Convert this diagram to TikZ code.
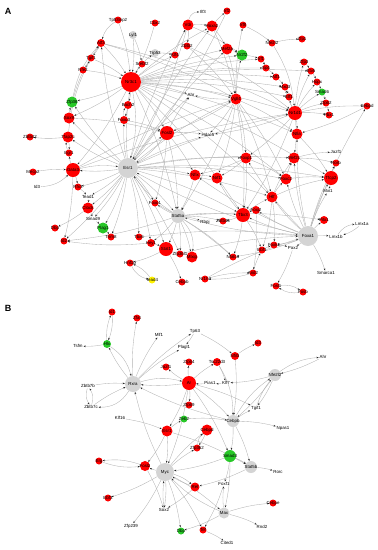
\documentclass[tikz,border=0pt]{standalone}
\usepackage{fontspec}
\setmainfont{Liberation Sans}
\usetikzlibrary{arrows.meta,backgrounds}

\definecolor{tfred}{RGB}{255,0,0}
\definecolor{tfgreen}{RGB}{40,200,40}
\definecolor{tfgray}{RGB}{212,212,212}
\newcommand\genefont{\fontsize{4.4}{5}\selectfont}

\begin{document}
\begin{tikzpicture}[
  x=1pt,y=-1pt,
  gene/.style={circle,inner sep=0pt,draw=none},
  rs/.style={gene,fill=tfred,minimum size=7pt},
  rm/.style={gene,fill=tfred,minimum size=11pt},
  rl/.style={gene,fill=tfred,minimum size=14pt},
  rb/.style={gene,fill=tfred,minimum size=20pt},
  gs/.style={gene,fill=tfgreen,minimum size=7pt},
  gm/.style={gene,fill=tfgreen,minimum size=11pt},
  ys/.style={gene,fill=yellow,minimum size=7pt},
  hs/.style={gene,fill=tfgray,minimum size=8pt},
  hm/.style={gene,fill=tfgray,minimum size=12pt},
  hl/.style={gene,fill=tfgray,minimum size=16pt},
  hb/.style={gene,fill=tfgray,minimum size=20pt},
  tx/.style={inner sep=0.7pt,font=\genefont},
  every label/.style={font=\genefont,inner sep=0pt},
  panel/.style={font=\bfseries\fontsize{9}{10}\selectfont},
  arr/.style={-{Stealth[length=2.2pt,width=1.7pt,color=black!85]},draw=black!30,line width=0.35pt,bend left=6}
]
  \useasboundingbox (0,0) rectangle (378,550);

  % Panel A
  \node[panel] (labA) at (8,11) {A};

  % upper left
  \node[rs,label=center:Tp53inp2] (tpinp) at (118,20) {};
  \node[rs,label=center:Cbx2] (cbx2) at (155,23) {};
  \node[hs,label=center:Lyl1] (lyl1) at (133,35) {};
  \node[rs,minimum size=8pt,label=center:Atf3] (atf3) at (101,43) {};
  \node[rs,label=center:Tgif1] (tgifa) at (91,58) {};
  \node[rs,label=center:Nfe2] (nfe2) at (83,70) {};
  \node[hs,label=center:Trp53] (trp53) at (155,53) {};
  \node[rs,label=center:Klf4] (klf4) at (175,55) {};
  \node[rs,label=center:Srebf2] (srebf2) at (142,64) {};
  \node[rb,label=center:Nr3c1] (nr3c1) at (131,82) {};
  \node[gm,label=center:Zfp36] (zfp36) at (72,102) {};
  \node[rs,minimum size=8pt,label=center:Bach2] (bach2) at (128,105) {};
  \node[rs,minimum size=8pt,label=center:Foxo3] (foxo3) at (124,120) {};
  \node[rm,label=center:Sox9] (sox9) at (69,118) {};
  \node[rl,label=center:Fosl2] (fosl2) at (167,133) {};
  \node[rs,label=center:Zbtb42] (zbtb42) at (30,137) {};
  \node[rm,label=center:Tfap2c] (tfap2c) at (68,137) {};

  % upper right
  \node[rm,label=center:Vdr] (vdr) at (188,25) {};
  \node[rm,label=center:Hoxa2] (hoxa2) at (212,26) {};
  \node[rs,label=center:Irf2] (irf2) at (227,11) {};
  \node[tx] (ilf3) at (203,12) {Ilf3};
  \node[rs,label=center:Irf8] (irf8) at (243,25) {};
  \node[rs,label=center:Nfe2l2] (nfe2l2) at (272,43) {};
  \node[rs,label=center:Zfp1] (zfp1) at (302,39) {};
  \node[rm,label=center:Mef2a] (mef2a) at (227,49) {};
  \node[gm,label=center:Nr2f2] (nr2f2) at (242,55) {};
  \node[rs,label=center:Irf1] (irf1) at (261,59) {};
  \node[rs,label=center:Sp4] (sp4) at (266,68) {};
  \node[rs,label=center:Atf1] (atf1) at (276,77) {};
  \node[rs,label=center:Mxd3] (mxd3) at (285,87) {};
  \node[rs,label=center:Elf1] (elf1) at (289,97) {};
  \node[rs,label=center:Zfp3] (zfp3) at (304,62) {};
  \node[rs,label=center:Etv5] (etv5) at (311,71) {};
  \node[rs,label=center:Hopx] (hopx) at (317,82) {};
  \node[gs,label=center:Smad6] (smad6) at (322,92) {};
  \node[rs,label=center:Zfp62] (zfp62) at (326,103) {};
  \node[rs,label=center:Pbx1] (pbx1) at (329,115) {};
  \node[rs,label=center:Cebpd] (cebpd) at (367,106) {};
  \node[rl,label=center:Nr1d1] (nr1d1) at (295,113) {};
  \node[rm,label=center:Nfia] (nfia) at (297,134) {};
  \node[rm,label=center:Vgll4] (vgll4) at (236,99) {};
  \node[tx] (ahr) at (191,95) {Ahr};
  \node[rs,label=center:Zbtb2] (zbtb2) at (187,46) {};
  \node[tx] (hdac5) at (208,135) {Hdac5};

  % lower left
  \node[rs,label=center:Egr1] (egr1) at (69,153) {};
  \node[rl,label=center:Gata3] (gata3) at (73,170) {};
  \node[rs,label=center:Mecp2] (mecp2) at (33,172) {};
  \node[tx] (id3) at (37,187) {Id3};
  \node[hb,label=center:Esr1] (esr1) at (128,168) {};
  \node[rs,label=center:Rfx3] (rfx3) at (78,187) {};
  \node[tx] (tead1) at (88,197) {Tead1};
  \node[rm,label=center:Clock] (clock) at (88,208) {};
  \node[tx] (smad9) at (93,219) {Smad9};
  \node[gm,label=center:Plag1] (plag1) at (103,228) {};
  \node[rs,label=center:Dbp] (dbp) at (55,228) {};
  \node[rs,label=center:Trim8] (trim8) at (111,237) {};
  \node[rs,label=center:Tbx6] (tbx6) at (139,237) {};
  \node[rs,label=center:Id2] (id2) at (64,241) {};
  \node[rs,minimum size=8pt,label=center:Hey1] (hey1) at (151,243) {};
  \node[rl,label=center:Stat1] (stat1) at (166,249) {};
  \node[rs,label=center:Zfp36l1] (zfp36l1) at (180,254) {};
  \node[rs,label=center:Foxo1] (foxo1) at (155,203) {};
  \node[hm,minimum size=14pt,label=center:Stat5a] (stat5a) at (178,216) {};
  \node[rs,label=center:Hnf1b] (hnf1b) at (130,263) {};
  \node[ys,label=center:Tead4] (tead4) at (152,280) {};

  % lower right
  \node[rm,label=center:Foxp1] (foxp1) at (246,158) {};
  \node[rm,label=center:Mef2c] (mef2c) at (294,158) {};
  \node[tx] (jazf1) at (336,152) {Jazf1};
  \node[rs,label=center:Rorb] (rorb) at (336,163) {};
  \node[rl,label=center:Tfcp2] (tfcp2) at (331,178) {};
  \node[tx] (mxi1) at (328,191) {Mxi1};
  \node[rm,label=center:Foxc2] (foxc2) at (286,179) {};
  \node[rm,label=center:Nfix] (nfix) at (195,175) {};
  \node[rm,label=center:Nrf1] (nrf1) at (217,178) {};
  \node[rm,label=center:Hlf] (hlf) at (272,197) {};
  \node[rs,minimum size=8pt,label=center:Foxj2] (foxj2) at (256,210) {};
  \node[rl,label=center:Tbx3] (tbx3) at (243,215) {};
  \node[rs,label=center:Zbtb46] (zbtb46) at (223,221) {};
  \node[tx] (rbpj) at (205,222) {Rbpj};
  \node[hb,label=center:Foxa1] (foxa1) at (308,236) {};
  \node[rs,minimum size=8pt,label=center:Pitx1] (pitx1) at (324,220) {};
  \node[tx] (lmx1a) at (362,224) {Lmx1a};
  \node[tx] (lmx1b) at (336,237) {Lmx1b};
  \node[tx] (smarca1) at (326,273) {Smarca1};
  \node[rs,label=center:Ebf1] (ebf1) at (262,250) {};
  \node[rs,label=center:Foxk1] (foxk1) at (274,245) {};
  \node[tx] (pax2) at (293,248) {Pax2};
  \node[rs,label=center:Nfatc3] (nfatc3) at (233,257) {};
  \node[rs,label=center:Arid2] (arid2) at (253,273) {};
  \node[rs,label=center:Nr1h4] (nr1h4) at (205,279) {};
  \node[rm,label=center:Mlxip] (mlxip) at (192,257) {};
  \node[rs,label=center:Cebpb] (cebpba) at (182,282) {};
  \node[rs,label=center:Fosl1] (fosl1) at (276,286) {};
  \node[rs,label=center:Fosb] (fosb) at (303,292) {};

  % Panel B
  \node[panel] (labB) at (8,308) {B};

  \node[rs,label=center:Id1] (bid1) at (112,312) {};
  \node[rs,label=center:Zfat] (bzfat) at (137,318) {};
  \node[tx] (bmlf1) at (159,335) {Mlf1};
  \node[gs,minimum size=8pt,label=center:Hlx] (bhlx) at (107,344) {};
  \node[tx] (btsfm) at (78,346) {Tsfm};
  \node[tx] (bplagl1) at (184,347) {Plagl1};
  \node[tx] (btp63) at (195,331) {Tp63};
  \node[rs,label=center:Jazf1] (bjazf1) at (166,367) {};
  \node[hl,label=center:Rxra] (brxra) at (133,384) {};
  \node[tx] (bzbtb7b) at (88,386) {Zbtb7b};
  \node[tx] (bzbtb7c) at (91,407) {Zbtb7c};
  \node[tx] (bklf16) at (120,418) {Klf16};
  \node[rs,minimum size=8pt,label=center:Nfil3] (bnfil3) at (235,356) {};
  \node[rs,label=center:Id3] (bid3) at (258,343) {};
  \node[rs,label=center:Zfp64] (bzfp64) at (189,362) {};
  \node[rs,minimum size=8pt,label=center:Tsc22d3] (btsc) at (217,362) {};
  \node[rl,label=center:Ar] (bar) at (189,383) {};
  \node[tx] (bpias1) at (210,383) {Pias1};
  \node[tx] (bklf7) at (226,383) {Klf7};
  \node[hm,label=center:Nfe2l2] (bnfe2l2) at (275,375) {};
  \node[tx] (bahr) at (323,357) {Ahr};
  \node[rs,label=center:Zfp69] (bzfp69) at (189,405) {};
  \node[tx] (btgif1) at (256,408) {Tgif1};
  \node[hm,label=center:Cebpb] (bcebpb) at (233,421) {};
  \node[gs,label=center:Zeb2] (bzeb2) at (184,419) {};
  \node[rm,label=center:Esr1] (besr1) at (167,431) {};
  \node[rm,label=center:Cebpd] (bcebpd) at (207,430) {};
  \node[tx] (bnpas1) at (283,428) {Npas1};
  \node[rs,label=center:Zfp362] (bzfp362) at (197,448) {};
  \node[gm,minimum size=12pt,label=center:Smad3] (bsmad3) at (230,456) {};
  \node[hm,label=center:Stat5b] (bstat5b) at (251,467) {};
  \node[tx] (brorc) at (278,472) {Rorc};
  \node[rs,label=center:Erg] (berg) at (99,461) {};
  \node[rm,minimum size=10pt,label=center:Fosl2] (bfosl2) at (145,466) {};
  \node[hl,minimum size=18pt,label=center:Myc] (bmyc) at (165,472) {};
  \node[rm,minimum size=9pt,label=center:Rel] (brel) at (195,487) {};
  \node[tx] (bfoxf1) at (224,484) {Foxf1};
  \node[rs,label=center:Ebf3] (bebf3) at (108,498) {};
  \node[rs,label=center:Cebpe] (bcebpe) at (273,503) {};
  \node[tx] (bsox2) at (164,510) {Sox2};
  \node[hm,minimum size=11pt,label=center:Max] (bmax) at (224,513) {};
  \node[tx] (bzfp239) at (131,526) {Zfp239};
  \node[tx] (brnd2) at (262,527) {Rnd2};
  \node[gs,label=center:Dbp] (bdbp) at (181,531) {};
  \node[rs,label=center:Tef] (btef) at (203,530) {};
  \node[tx] (bcited1) at (227,543) {Cited1};

  \begin{pgfonlayer}{background}
  % Esr1 hub
  \draw[arr] (esr1) to (nr3c1);
  \draw[arr] (esr1) to (fosl2);
  \draw[arr] (esr1) to (gata3);
  \draw[arr] (esr1) to (tfap2c);
  \draw[arr] (esr1) to (sox9);
  \draw[arr] (esr1) to (clock);
  \draw[arr] (esr1) to (rfx3);
  \draw[arr] (esr1) to (foxo1);
  \draw[arr] (esr1) to (stat5a);
  \draw[arr] (esr1) to (tbx6);
  \draw[arr] (esr1) to (trim8);
  \draw[arr] (esr1) to (hey1);
  \draw[arr] (esr1) to (id2);
  \draw[arr] (esr1) to (vgll4);
  \draw[arr] (esr1) to (nr1d1);
  \draw[arr] (esr1) to (mef2a);
  \draw[arr] (esr1) to (hoxa2);
  \draw[arr] (esr1) to (vdr);
  \draw[arr] (esr1) to (foxp1);
  \draw[arr] (esr1) to (tbx3);
  \draw[arr] (esr1) to (foxc2);
  \draw[arr] (esr1) to (tfcp2);
  \draw[arr] (esr1) to (atf3);
  \draw[arr] (esr1) to (foxo3);
  \draw[arr] (esr1) to (nfix);
  \draw[arr] (esr1) to (hlf);
  \draw[arr] (esr1) to (plag1);
  \draw[arr] (esr1) to (smad9);
  \draw[arr] (esr1) to (tead1);
  \draw[arr] (esr1) to (ahr);
  \draw[arr] (esr1) to (hdac5);
  \draw[arr] (esr1) to (stat1);
  \draw[arr] (esr1) to (zfp36);
  \draw[arr] (esr1) to (mef2c);
  \draw[arr] (esr1) to (zfp36l1);
  \draw[arr,bend left=12] (nr3c1) to (esr1);
  \draw[arr,bend left=10] (gata3) to (esr1);
  \draw[arr,bend left=10] (fosl2) to (esr1);
  \draw[arr,bend left=8] (foxa1) to (esr1);
  \draw[arr,bend left=10] (stat5a) to (esr1);
  \draw[arr] (vdr) to (esr1);
  \draw[arr] (irf2) to (esr1);
  % Nr3c1 hub
  \draw[arr] (nr3c1) to (hoxa2);
  \draw[arr] (nr3c1) to (mef2a);
  \draw[arr] (nr3c1) to (nr2f2);
  \draw[arr] (nr3c1) to (irf1);
  \draw[arr] (nr3c1) to (sp4);
  \draw[arr] (nr3c1) to (atf1);
  \draw[arr] (nr3c1) to (mxd3);
  \draw[arr] (nr3c1) to (vgll4);
  \draw[arr] (nr3c1) to (ahr);
  \draw[arr] (nr3c1) to (srebf2);
  \draw[arr] (nr3c1) to (bach2);
  \draw[arr] (nr3c1) to (fosl2);
  \draw[arr] (nr3c1) to (klf4);
  \draw[arr] (nr3c1) to (gata3);
  \draw[arr] (nr3c1) to (zfp36);
  \draw[arr] (nr3c1) to (sox9);
  \draw[arr] (nr3c1) to (etv5);
  \draw[arr] (nr3c1) to (nr1d1);
  \draw[arr] (nr3c1) to (foxc2);
  \draw[arr] (nr3c1) to (tbx3);
  \draw[arr] (nr3c1) to (hlf);
  \draw[arr] (nr3c1) to (elf1);
  \draw[arr] (nr3c1) to (stat5a);
  \draw[arr] (nr3c1) to (tfcp2);
  \draw[arr] (nr3c1) to (nfia);
  \draw[arr] (lyl1) to (nr3c1);
  \draw[arr] (tpinp) to (nr3c1);
  \draw[arr] (cbx2) to (nr3c1);
  \draw[arr] (atf3) to (nr3c1);
  \draw[arr] (nfe2) to (nr3c1);
  \draw[arr] (tgifa) to (nr3c1);
  % left chain
  \draw[arr,bend right=20] (tpinp) to (atf3);
  \draw[arr] (atf3) to (tgifa);
  \draw[arr] (tgifa) to (nfe2);
  \draw[arr,bend left=15] (zfp36) to (atf3);
  \draw[arr,bend left=12] (sox9) to (atf3);
  \draw[arr,bend left=10] (tfap2c) to (tgifa);
  \draw[arr] (atf3) to (vgll4);
  \draw[arr] (atf3) to (nr1d1);
  \draw[arr] (sox9) to (zfp36);
  \draw[arr] (sox9) to (fosl2);
  \draw[arr] (tfap2c) to (zbtb42);
  \draw[arr] (tfap2c) to (egr1);
  \draw[arr,bend left=20] (egr1) to (tfap2c);
  \draw[arr] (gata3) to (egr1);
  \draw[arr] (mecp2) to (gata3);
  \draw[arr,bend right=20] (id3) to (gata3);
  \draw[arr] (gata3) to (rfx3);
  \draw[arr] (gata3) to (vgll4);
  \draw[arr] (gata3) to (nr1d1);
  \draw[arr] (gata3) to (id2);
  \draw[arr] (rfx3) to (tead1);
  \draw[arr] (tead1) to (clock);
  \draw[arr] (clock) to (smad9);
  \draw[arr] (clock) to (dbp);
  \draw[arr] (smad9) to (plag1);
  \draw[arr] (plag1) to (trim8);
  \draw[arr] (hey1) to (id2);
  \draw[arr] (stat5a) to (id2);
  \draw[arr] (bach2) to (foxo3);
  \draw[arr,bend left=25] (foxo3) to (bach2);
  \draw[arr] (foxo3) to (fosl2);
  \draw[arr] (srebf2) to (trp53);
  \draw[arr] (trp53) to (klf4);
  \draw[arr] (lyl1) to (srebf2);
  \draw[arr] (klf4) to (vdr);
  % top right
  \draw[arr,bend left=40] (vdr) to (ilf3);
  \draw[arr] (vdr) to (hoxa2);
  \draw[arr] (vdr) to (zbtb2);
  \draw[arr] (vdr) to (nr2f2);
  \draw[arr] (hoxa2) to (irf2);
  \draw[arr] (hoxa2) to (mef2a);
  \draw[arr] (hoxa2) to (vgll4);
  \draw[arr] (irf8) to (nfe2l2);
  \draw[arr] (nfe2l2) to (zfp1);
  \draw[arr,bend left=12] (nfe2l2) to (nr1d1);
  \draw[arr] (mef2a) to (nr2f2);
  \draw[arr] (mef2a) to (vgll4);
  \draw[arr] (nr2f2) to (irf1);
  \draw[arr] (irf1) to (sp4);
  \draw[arr] (sp4) to (atf1);
  \draw[arr] (atf1) to (mxd3);
  \draw[arr] (mxd3) to (elf1);
  \draw[arr] (zfp3) to (etv5);
  \draw[arr] (etv5) to (hopx);
  \draw[arr] (hopx) to (smad6);
  \draw[arr] (smad6) to (zfp62);
  \draw[arr] (zfp62) to (pbx1);
  \draw[arr] (cebpd) to (nfia);
  \draw[arr] (zbtb2) to (nr1d1);
  \draw[arr] (zbtb2) to (vgll4);
  % Nr1d1
  \draw[arr] (nr1d1) to (smad6);
  \draw[arr] (nr1d1) to (zfp62);
  \draw[arr] (nr1d1) to (pbx1);
  \draw[arr] (nr1d1) to (cebpd);
  \draw[arr] (nr1d1) to (hopx);
  \draw[arr] (nr1d1) to (etv5);
  \draw[arr] (nr1d1) to (zfp3);
  \draw[arr] (nr1d1) to (nfia);
  \draw[arr] (nr1d1) to (elf1);
  \draw[arr] (nr1d1) to (mxd3);
  \draw[arr] (nr1d1) to (hdac5);
  \draw[arr] (nr1d1) to (mef2c);
  \draw[arr] (nr1d1) to (foxp1);
  \draw[arr] (nr1d1) to (tbx3);
  % Vgll4
  \draw[arr] (vgll4) to (nr2f2);
  \draw[arr] (vgll4) to (foxp1);
  \draw[arr] (vgll4) to (hlf);
  \draw[arr] (vgll4) to (tbx3);
  \draw[arr] (vgll4) to (foxc2);
  \draw[arr] (vgll4) to (nfia);
  \draw[arr] (vgll4) to (fosl2);
  \draw[arr] (vgll4) to (stat5a);
  \draw[arr] (vgll4) to (ahr);
  \draw[arr] (vgll4) to (irf8);
  \draw[arr] (vgll4) to (hdac5);
  \draw[arr] (vgll4) to (nrf1);
  \draw[arr] (fosl2) to (ahr);
  \draw[arr] (fosl2) to (hdac5);
  \draw[arr] (fosl2) to (foxo1);
  \draw[arr] (fosl2) to (stat5a);
  \draw[arr] (fosl2) to (nfix);
  % Foxa1 hub
  \draw[arr] (foxa1) to (tfcp2);
  \draw[arr] (foxa1) to (mxi1);
  \draw[arr] (foxa1) to (rorb);
  \draw[arr] (foxa1) to (mef2c);
  \draw[arr] (foxa1) to (foxc2);
  \draw[arr] (foxa1) to (hlf);
  \draw[arr] (foxa1) to (foxj2);
  \draw[arr] (foxa1) to (tbx3);
  \draw[arr] (foxa1) to (pitx1);
  \draw[arr] (foxa1) to (lmx1b);
  \draw[arr,bend left=25] (lmx1b) to (lmx1a);
  \draw[arr,bend left=10] (lmx1a) to (lmx1b);
  \draw[arr] (foxa1) to (smarca1);
  \draw[arr] (foxa1) to (pax2);
  \draw[arr] (foxa1) to (foxk1);
  \draw[arr] (foxa1) to (stat5a);
  \draw[arr] (foxa1) to (nfia);
  \draw[arr] (foxa1) to (foxp1);
  \draw[arr] (foxa1) to (nfatc3);
  \draw[arr] (foxa1) to (nfix);
  \draw[arr] (foxa1) to (cebpd);
  \draw[arr] (nr1h4) to (foxa1);
  % Stat5a
  \draw[arr] (stat5a) to (stat1);
  \draw[arr] (stat5a) to (mlxip);
  \draw[arr] (stat5a) to (zfp36l1);
  \draw[arr] (stat5a) to (foxo1);
  \draw[arr] (stat5a) to (nfatc3);
  \draw[arr] (stat5a) to (rbpj);
  \draw[arr] (stat5a) to (zbtb46);
  \draw[arr] (stat5a) to (tbx3);
  \draw[arr] (stat5a) to (hey1);
  \draw[arr] (stat5a) to (pitx1);
  \draw[arr,bend left=25] (stat5a) to (mlxip);
  % Tbx3 and neighbours
  \draw[arr] (tbx3) to (hlf);
  \draw[arr] (tbx3) to (foxj2);
  \draw[arr] (tbx3) to (zbtb46);
  \draw[arr] (tbx3) to (nrf1);
  \draw[arr] (tbx3) to (ebf1);
  \draw[arr] (tbx3) to (nfatc3);
  \draw[arr] (hlf) to (foxc2);
  \draw[arr] (hlf) to (tfcp2);
  \draw[arr] (hlf) to (foxk1);
  \draw[arr] (hlf) to (mef2c);
  \draw[arr] (hlf) to (ebf1);
  \draw[arr] (foxc2) to (tfcp2);
  \draw[arr] (foxc2) to (mef2c);
  \draw[arr] (mef2c) to (rorb);
  \draw[arr] (mef2c) to (jazf1);
  \draw[arr] (tfcp2) to (rorb);
  \draw[arr] (tfcp2) to (mxi1);
  \draw[arr] (foxp1) to (nfix);
  \draw[arr] (foxp1) to (nrf1);
  \draw[arr] (foxp1) to (foxc2);
  \draw[arr] (foxp1) to (tbx3);
  \draw[arr] (nfix) to (nrf1);
  \draw[arr] (nfix) to (stat5a);
  \draw[arr] (foxo1) to (nfatc3);
  \draw[arr] (nfia) to (tfcp2);
  % bottom
  \draw[arr] (hey1) to (stat1);
  \draw[arr] (stat1) to (hnf1b);
  \draw[arr] (stat1) to (cebpba);
  \draw[arr,bend right=25] (hnf1b) to (tead4);
  \draw[arr,bend right=15] (tead4) to (hnf1b);
  \draw[arr] (ebf1) to (foxk1);
  \draw[arr] (foxk1) to (pax2);
  \draw[arr] (arid2) to (ebf1);
  \draw[arr,bend left=8] (arid2) to (nr1h4);
  \draw[arr,bend left=8] (nr1h4) to (arid2);
  \draw[arr,bend left=20] (fosl1) to (fosb);
  \draw[arr,bend left=20] (fosb) to (fosl1);
  \draw[arr] (pax2) to (fosl1);
  \draw[arr] (foxj2) to (arid2);
  \draw[arr] (zfp36l1) to (foxa1);
  \draw[arr] (tbx6) to (foxa1);

  % Panel B edges
  \draw[arr] (brxra) to (bhlx);
  \draw[arr] (bhlx) to (btsfm);
  \draw[arr,bend left=12] (bhlx) to (bid1);
  \draw[arr,bend left=12] (bid1) to (bhlx);
  \draw[arr] (brxra) to (bzfat);
  \draw[arr] (brxra) to (bmlf1);
  \draw[arr] (brxra) to (bplagl1);
  \draw[arr] (brxra) to (btp63);
  \draw[arr,bend left=20] (bhlx) to (brxra);
  \draw[arr] (bzbtb7b) to (brxra);
  \draw[arr] (bzbtb7c) to (brxra);
  \draw[arr,bend right=25] (bzbtb7b) to (bzbtb7c);
  \draw[arr,bend right=25] (bzbtb7c) to (bzbtb7b);
  \draw[arr,bend left=30] (brxra) to (bzbtb7c);
  \draw[arr] (bar) to (brxra);
  \draw[arr,bend left=15] (brxra) to (bar);
  \draw[arr] (bmyc) to (brxra);
  \draw[arr] (bcebpb) to (brxra);
  \draw[arr] (bar) to (bjazf1);
  \draw[arr] (bar) to (bzfp64);
  \draw[arr] (bar) to (btsc);
  \draw[arr] (bar) to (bzfp69);
  \draw[arr] (bpias1) to (bar);
  \draw[arr] (bnfe2l2) to (bklf7);
  \draw[arr] (bklf7) to (bpias1);
  \draw[arr] (bar) to (bcebpb);
  \draw[arr] (bar) to (btgif1);
  \draw[arr] (bar) to (besr1);
  \draw[arr] (bar) to (bmyc);
  \draw[arr] (bar) to (bsmad3);
  \draw[arr] (btp63) to (bplagl1);
  \draw[arr] (btp63) to (bnfil3);
  \draw[arr] (bnfil3) to (bid3);
  \draw[arr] (bnfil3) to (bcebpb);
  \draw[arr] (btsc) to (bklf7);
  \draw[arr,bend left=15] (btsc) to (bcebpb);
  \draw[arr] (bahr) to (bnfe2l2);
  \draw[arr,bend left=15] (bnfe2l2) to (bahr);
  \draw[arr] (bnfe2l2) to (btgif1);
  \draw[arr,bend left=10] (btgif1) to (bnfe2l2);
  \draw[arr] (bnfe2l2) to (bcebpb);
  \draw[arr,bend left=12] (bcebpb) to (bnfe2l2);
  \draw[arr] (bcebpb) to (btgif1);
  \draw[arr] (bcebpb) to (bnpas1);
  \draw[arr] (bcebpb) to (bsmad3);
  \draw[arr] (bcebpb) to (bstat5b);
  \draw[arr] (bklf16) to (besr1);
  \draw[arr] (besr1) to (bmyc);
  \draw[arr] (besr1) to (bfosl2);
  \draw[arr] (besr1) to (bzeb2);
  \draw[arr] (bzeb2) to (bcebpb);
  \draw[arr] (besr1) to (bstat5b);
  \draw[arr] (bcebpd) to (bzfp362);
  \draw[arr,bend left=20] (bzfp362) to (bcebpd);
  \draw[arr] (bmyc) to (bcebpd);
  \draw[arr] (bmyc) to (bzfp362);
  \draw[arr] (bsmad3) to (bstat5b);
  \draw[arr] (bsmad3) to (bmax);
  \draw[arr] (bsmad3) to (bfoxf1);
  \draw[arr] (bstat5b) to (brorc);
  \draw[arr] (bstat5b) to (brel);
  \draw[arr] (bmyc) to (bfosl2);
  \draw[arr,bend right=12] (bfosl2) to (berg);
  \draw[arr,bend right=12] (berg) to (bfosl2);
  \draw[arr] (bfosl2) to (bsox2);
  \draw[arr] (bmyc) to (bebf3);
  \draw[arr] (bmyc) to (bzfp239);
  \draw[arr] (bmyc) to (bsox2);
  \draw[arr] (bmyc) to (bdbp);
  \draw[arr,bend left=12] (bmyc) to (brel);
  \draw[arr] (brel) to (bmyc);
  \draw[arr] (bmyc) to (bmax);
  \draw[arr,bend left=10] (bmax) to (bmyc);
  \draw[arr] (brel) to (bsox2);
  \draw[arr] (bfoxf1) to (btef);
  \draw[arr] (bmax) to (bfoxf1);
  \draw[arr] (bmax) to (bcebpe);
  \draw[arr] (bmax) to (brnd2);
  \draw[arr] (bmax) to (bdbp);
  \draw[arr] (btef) to (bcited1);
  \draw[arr] (bmyc) to (btef);
  \draw[arr] (bsmad3) to (bmyc);
  \draw[arr] (bsox2) to (bmyc);
  \end{pgfonlayer}
\end{tikzpicture}
\end{document}
